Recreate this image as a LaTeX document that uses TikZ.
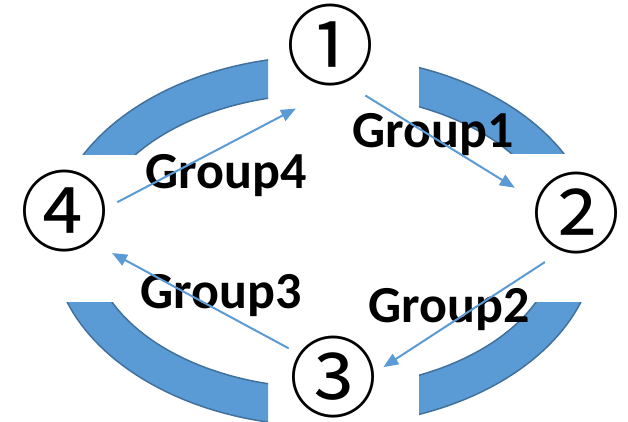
\documentclass[tikz,border=0pt]{standalone}
\usepackage{fontspec}
\setmainfont{Carlito}
\newfontfamily\circfont{Noto Sans CJK JP}
\usetikzlibrary{arrows.meta}
\definecolor{arcblue}{HTML}{5B9BD5}
\definecolor{arcedge}{HTML}{41719C}
\newcommand{\circnum}[1]{\makebox[0pt]{\raisebox{-0.38em}[0pt][0pt]{#1}}}

\begin{document}
\begin{tikzpicture}[x=1pt, y=-1pt]
	\tikzstyle{num}   = [circle, inner sep=0pt, minimum size=84pt, font=\circfont\fontsize{88}{88}\selectfont]
	\tikzstyle{group} = [anchor=base, inner sep=0pt, font=\bfseries\fontsize{52}{52}\selectfont]
	\tikzstyle{flow}  = [arcblue, line width=2pt, -{Triangle[length=15pt, width=12pt]}]
	\useasboundingbox (0,0) rectangle (628,422);
	% ring, cut into four pieces
	\begin{scope}
	\clip (0,0) rectangle (268,155) (419,0) rectangle (628,154)
	      (0,302) rectangle (268,422) (419,302) rectangle (628,422);
	\fill [arcblue, even odd rule] (324,241) ellipse [x radius=272, y radius=185]
	                               (324,241) ellipse [x radius=233, y radius=147];
	\draw [arcedge, line width=1.5pt] (324,241) ellipse [x radius=272, y radius=185];
	\draw [arcedge, line width=1.5pt] (324,241) ellipse [x radius=233, y radius=147];
	\end{scope}
	\node[num] (one)   at (330,45)  {\circnum{①}};
	\node[num] (two)   at (576,213) {\circnum{②}};
	\node[num] (three) at (333,377) {\circnum{③}};
	\node[num] (four)  at (64,211)  {\circnum{④}};
	\node[group] (g1) at (433,148) {Group1};
	\node[group] (g2) at (449,322) {Group2};
	\node[group] (g3) at (221,308) {Group3};
	\node[group] (g4) at (226,188) {Group4};
	\draw[flow, shorten <=12.6pt, shorten >=47.6pt] (four.4)    -- (one.-79);
	\draw[flow, shorten <=22.2pt, shorten >=24.5pt] (one.-67)   -- (two.163);
	\draw[flow, shorten <=18.2pt, shorten >=10pt]   (two.-112)  -- (three.6);
	\draw[flow, shorten <=10.6pt, shorten >=22.5pt] (three.146) -- (four.-48);
\end{tikzpicture}
\end{document}
